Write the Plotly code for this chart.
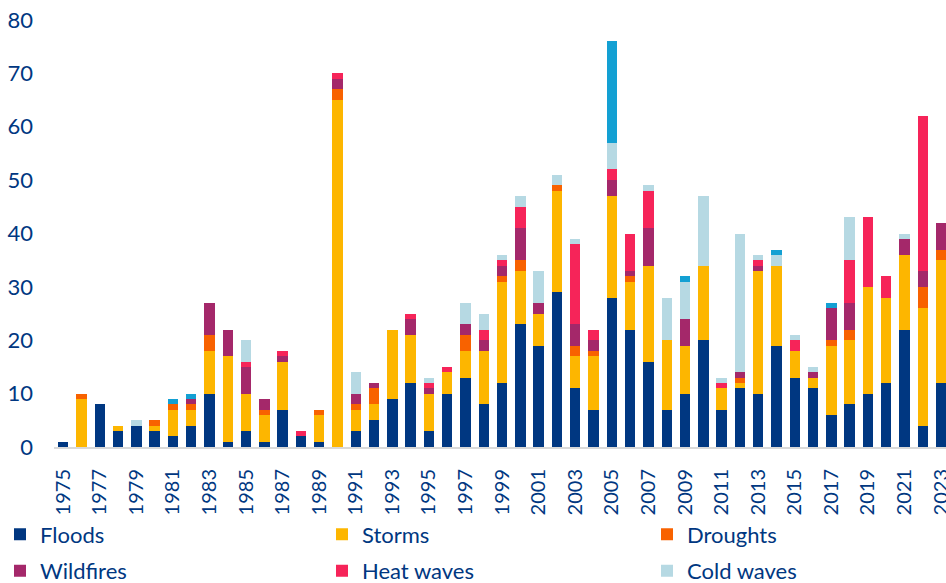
import plotly.graph_objects as go

# Number of weather-related catastrophe events per year, by type
years = list(range(1975, 2024))

floods = [1, 0, 8, 3, 4, 3, 2, 4, 10, 1, 3, 1, 7, 2, 1, 0, 3, 5, 9, 12, 3, 10, 13, 8, 12,
          23, 19, 29, 11, 7, 28, 22, 16, 7, 10, 20, 7, 11, 10, 19, 13, 11, 6, 8, 10, 12, 22, 4, 12]
storms = [0, 9, 0, 1, 0, 1, 5, 3, 8, 16, 7, 5, 9, 0, 5, 65, 4, 3, 13, 9, 7, 4, 5, 10, 19,
          10, 6, 19, 6, 10, 19, 9, 18, 13, 9, 14, 4, 1, 23, 15, 5, 2, 13, 12, 20, 16, 14, 22, 23]
droughts = [0, 1, 0, 0, 0, 1, 1, 1, 3, 0, 0, 1, 0, 0, 1, 2, 1, 3, 0, 0, 0, 0, 3, 0, 1,
            2, 0, 1, 2, 1, 0, 1, 0, 0, 0, 0, 0, 1, 0, 0, 0, 0, 1, 2, 0, 0, 0, 4, 2]
wildfires = [0, 0, 0, 0, 0, 0, 0, 1, 6, 5, 5, 2, 1, 0, 0, 2, 2, 1, 0, 3, 1, 0, 2, 2, 2,
             6, 2, 0, 4, 2, 3, 1, 7, 0, 5, 0, 0, 1, 1, 0, 0, 1, 6, 5, 0, 0, 3, 3, 5]
heat_waves = [0, 0, 0, 0, 0, 0, 0, 0, 0, 0, 1, 0, 1, 1, 0, 1, 0, 0, 0, 1, 1, 1, 0, 2, 1,
              4, 0, 0, 15, 2, 2, 7, 7, 0, 0, 0, 1, 0, 1, 0, 2, 0, 0, 8, 13, 4, 0, 29, 0]
cold_waves = [0, 0, 0, 0, 1, 0, 0, 0, 0, 0, 4, 0, 0, 0, 0, 0, 4, 0, 0, 0, 1, 0, 4, 3, 1,
              2, 6, 2, 1, 0, 5, 0, 1, 8, 7, 13, 1, 26, 1, 2, 1, 1, 0, 8, 0, 0, 1, 0, 0]
other = [0, 0, 0, 0, 0, 0, 1, 1, 0, 0, 0, 0, 0, 0, 0, 0, 0, 0, 0, 0, 0, 0, 0, 0, 0,
         0, 0, 0, 0, 0, 19, 0, 0, 0, 1, 0, 0, 0, 0, 1, 0, 0, 1, 0, 0, 0, 0, 0, 0]

series_names = ["Floods", "Storms", "Droughts", "Wildfires", "Heat waves", "Cold waves", "Other"]
series_values = [floods, storms, droughts, wildfires, heat_waves, cold_waves, other]
series_colors = ["#003781", "#FDB600", "#F86200", "#A4286A", "#F62459", "#B6D9E3", "#13A0D3"]

x_tick_labels = [str(y) for y in years[::2]]
y_tick_values = list(range(0, 90, 10))

TEXT_COLOR = "#003781"
FONT = "Lato, 'Open Sans', sans-serif"

# Legend laid out as three columns of two entries each
legend_column = {
    "Floods": "legend", "Wildfires": "legend",
    "Storms": "legend2", "Heat waves": "legend2",
    "Droughts": "legend3", "Cold waves": "legend3",
}

fig = go.Figure()
for name, vals, color in zip(series_names, series_values, series_colors):
    fig.add_trace(go.Bar(
        x=[str(y) for y in years],
        y=vals,
        name=name,
        legendgroup=name,
        legend=legend_column.get(name, "legend"),
        marker=dict(color=color, line=dict(width=0)),
        showlegend=(name in legend_column),
    ))


def column_legend(x_px):
    return dict(
        orientation="v",
        xref="container",
        yref="container",
        x=x_px / 946,
        xanchor="left",
        y=0.1195,
        yanchor="top",
        traceorder="grouped",
        tracegroupgap=5,
        font=dict(size=22, color=TEXT_COLOR, family=FONT),
        bgcolor="rgba(0,0,0,0)",
    )


fig.update_layout(
    width=946,
    height=583,
    barmode="stack",
    bargap=0.43,
    plot_bgcolor="white",
    paper_bgcolor="white",
    margin=dict(l=54, r=0, t=20, b=136, autoexpand=False),
    font=dict(family=FONT, color=TEXT_COLOR, size=20),
    xaxis=dict(
        type="category",
        range=[-0.5, 48.27],
        tickmode="array",
        tickvals=x_tick_labels,
        ticktext=x_tick_labels,
        tickangle=-90,
        ticks="outside",
        ticklen=12,
        tickcolor="rgba(0,0,0,0)",
        showline=True,
        linecolor="#D9D9D9",
        linewidth=2,
        showgrid=False,
        tickfont=dict(size=20, color=TEXT_COLOR),
    ),
    yaxis=dict(
        range=[0, 80],
        tickmode="array",
        tickvals=y_tick_values,
        showgrid=False,
        zeroline=False,
        showline=False,
        ticks="",
        ticklabelstandoff=20,
        tickfont=dict(size=22, color=TEXT_COLOR),
    ),
    legend=column_legend(0),
    legend2=column_legend(322),
    legend3=column_legend(647),
)

fig.write_html("out.html")
